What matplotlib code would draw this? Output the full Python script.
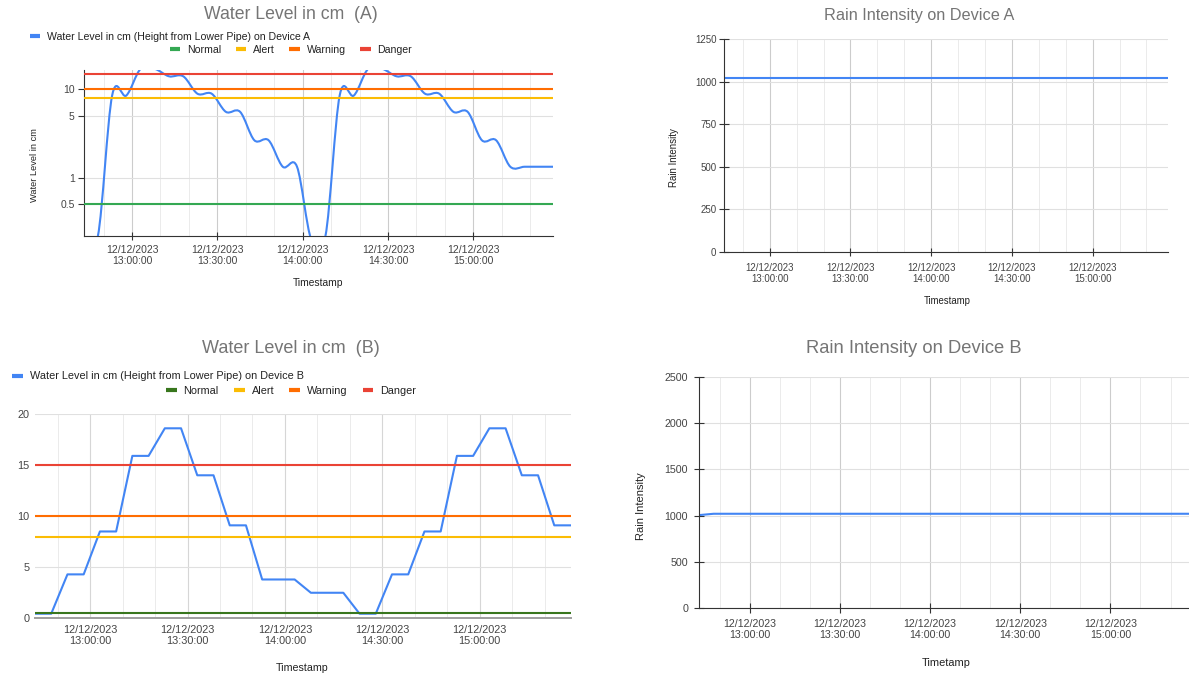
import matplotlib
matplotlib.use("Agg")
import matplotlib.pyplot as plt
import matplotlib.dates as mdates
from matplotlib.lines import Line2D
from matplotlib.path import Path
from matplotlib.patches import PathPatch
from matplotlib.ticker import FixedLocator, FuncFormatter, NullLocator, MultipleLocator
import numpy as np
import pandas as pd

plt.rcParams['font.family'] = ['Liberation Sans', 'DejaVu Sans']

# ---- data ----
times = pd.date_range("2023-12-12 12:43:00", periods=34, freq="5min")

level_a = [0.2, 0.22, 8.5, 8.5, 17.0, 17.0, 14.0, 14.0, 8.9, 8.9, 5.55, 5.55,
           2.65, 2.65, 1.33, 1.33, 0.2, 0.22, 8.5, 8.5, 17.0, 17.0, 14.0, 14.0,
           8.9, 8.9, 5.55, 5.55, 2.65, 2.65, 1.33, 1.33, 1.33, 1.33]

level_b = [0.45, 0.45, 4.3, 4.3, 8.5, 8.5, 15.9, 15.9, 18.6, 18.6, 14.0, 14.0,
           9.1, 9.1, 3.8, 3.8, 3.8, 2.5, 2.5, 2.5, 0.45, 0.45, 4.3, 4.3,
           8.5, 8.5, 15.9, 15.9, 18.6, 18.6, 14.0, 14.0, 9.1, 9.1]

rain_a = [1020, 1020, 1020, 1020, 1020, 1020, 1020, 1020, 1020, 1020, 1020, 1020,
          1020, 1020, 1020, 1020, 1020, 1020, 1020, 1020, 1020, 1020, 1020, 1020,
          1020, 1020, 1020, 1020, 1020, 1020, 1020, 1020, 1020, 1020]

rain_b = [1005, 1020, 1020, 1020, 1020, 1020, 1020, 1020, 1020, 1020, 1020, 1020,
          1020, 1020, 1020, 1020, 1020, 1020, 1020, 1020, 1020, 1020, 1020, 1020,
          1020, 1020, 1020, 1020, 1020, 1020, 1020, 1020, 1020, 1020]

threshold_names = ["Normal", "Alert", "Warning", "Danger"]
threshold_levels = [0.5, 8, 10, 15]
threshold_colors_a = ["#34a853", "#fbbc04", "#ff6d01", "#ea4335"]
threshold_colors_b = ["#38761d", "#fbbc04", "#ff6d01", "#ea4335"]

BLUE = "#4285f4"
W, H = 1189, 674


def fx(px):
    return px / W


def fy(py):
    return 1 - py / H


def smooth_log_path(x, y):
    # catmull-rom style bezier, built in log space like the screen curve
    ly = np.log10(y)
    n = len(x)
    verts = [(x[0], ly[0])]
    codes = [Path.MOVETO]
    for i in range(n - 1):
        xm, ym = (x[i - 1], ly[i - 1]) if i > 0 else (x[i], ly[i])
        xp, yp = (x[i + 2], ly[i + 2]) if i + 2 < n else (x[i + 1], ly[i + 1])
        c1 = (x[i] + (x[i + 1] - xm) / 6, ly[i] + (ly[i + 1] - ym) / 6)
        c2 = (x[i + 1] - (xp - x[i]) / 6, ly[i + 1] - (yp - ly[i]) / 6)
        verts += [c1, c2, (x[i + 1], ly[i + 1])]
        codes += [Path.CURVE4] * 3
    verts = np.array(verts)
    verts[:, 1] = 10 ** verts[:, 1]
    return Path(verts, codes)


def time_axis(ax, fs, major_col="#cccccc", minor_col="#ebebeb"):
    ax.set_xlim(xnum[0], xnum[-1])
    ax.xaxis.set_major_locator(mdates.MinuteLocator(byminute=[0, 30]))
    ax.xaxis.set_minor_locator(mdates.MinuteLocator(byminute=[10, 20, 40, 50]))
    ax.xaxis.set_major_formatter(mdates.DateFormatter("%m/%d/%Y\n%H:%M:%S"))
    ax.grid(True, which="major", axis="x", color=major_col, lw=0.8)
    ax.grid(True, which="minor", axis="x", color=minor_col, lw=0.7)
    ax.grid(True, which="major", axis="y", color="#e0e0e0", lw=0.8)
    ax.tick_params(axis="x", which="minor", length=0)
    for lab in ax.get_xticklabels():
        lab.set_linespacing(1.12)
    ax.tick_params(labelsize=fs, labelcolor="#444444", colors="#333333")
    for s in ["top", "right"]:
        ax.spines[s].set_visible(False)
    ax.set_axisbelow(True)


xnum = mdates.date2num(times)

fig = plt.figure(figsize=(W / 100, H / 100), dpi=100)

# ---------------- Water Level A (log scale, smooth curve) ----------------
axA = fig.add_axes([fx(83.7), fy(235.7), fx(553 - 83.7), (235.7 - 70) / H])
axA.set_yscale("log")
axA.set_ylim(0.221, 16.5)
axA.add_patch(PathPatch(smooth_log_path(xnum, level_a), facecolor="none",
                        edgecolor=BLUE, lw=1.5, zorder=3))
for lvl, col in zip(threshold_levels, threshold_colors_a):
    axA.plot(times, [lvl] * len(times), color=col, lw=1.5, zorder=4)
axA.yaxis.set_major_locator(FixedLocator([0.5, 1, 5, 10]))
axA.yaxis.set_minor_locator(NullLocator())
axA.yaxis.set_major_formatter(FuncFormatter(lambda v, p: "%g" % v))
time_axis(axA, 7.5)
axA.tick_params(axis="y", which="major", length=4, direction="out", pad=2.5)
axA.tick_params(axis="x", which="major", length=6, direction="inout", pad=4)
for s in ["left", "bottom"]:
    axA.spines[s].set_color("#333333")

# ---------------- Rain A ----------------
axRA = fig.add_axes([fx(724), fy(252), fx(444), 212.7 / H])
axRA.plot(times, rain_a, color=BLUE, lw=1.5)
axRA.set_ylim(0, 1250)
axRA.yaxis.set_major_locator(MultipleLocator(250))
time_axis(axRA, 7.05)
axRA.tick_params(axis="y", length=7, direction="inout", pad=2)
axRA.tick_params(axis="x", which="major", length=6, direction="inout", pad=5)
for s in ["left", "bottom"]:
    axRA.spines[s].set_color("#333333")

# ---------------- Water Level B ----------------
axB = fig.add_axes([fx(35), fy(618.3), fx(535.5), 204.3 / H])
axB.plot(times, level_b, color=BLUE, lw=1.5, zorder=3)
for lvl, col in zip(threshold_levels, threshold_colors_b):
    axB.plot(times, [lvl] * len(times), color=col, lw=1.5, zorder=4)
axB.set_ylim(0, 20)
axB.yaxis.set_major_locator(MultipleLocator(5))
time_axis(axB, 7.8, major_col="#d6d6d6", minor_col="#ebebeb")
axB.tick_params(axis="both", which="major", length=0)
axB.tick_params(axis="y", pad=4)
axB.tick_params(axis="x", pad=5)
axB.spines["left"].set_visible(False)
axB.spines["bottom"].set_color("#9e9e9e")
axB.spines["bottom"].set_linewidth(1.4)

# ---------------- Rain B ----------------
axRB = fig.add_axes([fx(698.6), fy(608.3), fx(496), 231.7 / H])
axRB.plot(times, rain_b, color=BLUE, lw=1.5)
axRB.set_ylim(0, 2500)
axRB.yaxis.set_major_locator(MultipleLocator(500))
time_axis(axRB, 7.7)
axRB.tick_params(axis="y", length=7, direction="inout", pad=4)
axRB.tick_params(axis="x", which="major", length=7, direction="inout", pad=4)
for s in ["left", "bottom"]:
    axRB.spines[s].set_color("#333333")

# ---------------- titles and axis titles ----------------
tcol = "#757575"
fig.text(fx(291), fy(14.3), "Water Level in cm  (A)", ha="center", va="center", fontsize=12.7, color=tcol)
fig.text(fx(919), fy(15.3), "Rain Intensity on Device A", ha="center", va="center", fontsize=11.7, color=tcol)
fig.text(fx(291), fy(349), "Water Level in cm  (B)", ha="center", va="center", fontsize=13, color=tcol)
fig.text(fx(914), fy(349), "Rain Intensity on Device B", ha="center", va="center", fontsize=13.2, color=tcol)

acol = "#222222"
fig.text(fx(318), fy(283), "Timestamp", ha="center", va="center", fontsize=7.4, color=acol)
fig.text(fx(947), fy(301), "Timestamp", ha="center", va="center", fontsize=6.9, color=acol)
fig.text(fx(302.6), fy(667.7), "Timestamp", ha="center", va="center", fontsize=7.7, color=acol)
fig.text(fx(946), fy(663), "Timetamp", ha="center", va="center", fontsize=7.9, color=acol)
fig.text(fx(34.4), fy(165), "Water Level in cm", ha="center", va="center", rotation=90, fontsize=6.7, color=acol)
fig.text(fx(674), fy(158), "Rain Intensity", ha="center", va="center", rotation=90, fontsize=7.06, color=acol)
fig.text(fx(640.5), fy(506.5), "Rain Intensity", ha="center", va="center", rotation=90, fontsize=8, color=acol)

# ---------------- legends ----------------
def legends(ax, label, colors, row1, row2_center, fs):
    h1 = [Line2D([], [], color=BLUE, lw=3, solid_capstyle="butt")]
    lg1 = ax.legend(h1, [label], loc="center left", bbox_to_anchor=row1,
                    bbox_transform=fig.transFigure, frameon=False, fontsize=fs,
                    handlelength=1.0, handletextpad=0.65, borderpad=0, borderaxespad=0)
    for t in lg1.get_texts():
        t.set_color("#222222")
    ax.add_artist(lg1)
    h2 = [Line2D([], [], color=c, lw=3, solid_capstyle="butt") for c in colors]
    lg2 = ax.legend(h2, threshold_names, loc="center", bbox_to_anchor=row2_center,
                    bbox_transform=fig.transFigure, frameon=False, fontsize=fs, ncol=4,
                    handlelength=1.0, handletextpad=0.65, columnspacing=1.38,
                    borderpad=0, borderaxespad=0)
    for t in lg2.get_texts():
        t.set_color("#222222")


legends(axA, "Water Level in cm (Height from Lower Pipe) on Device A", threshold_colors_a,
        (fx(29.8), fy(37)), (fx(291), fy(50)), 7.56)
legends(axB, "Water Level in cm (Height from Lower Pipe) on Device B", threshold_colors_b,
        (fx(12), fy(376.3)), (fx(291), fy(390.7)), 7.8)

fig.savefig("out.png", dpi=100)
